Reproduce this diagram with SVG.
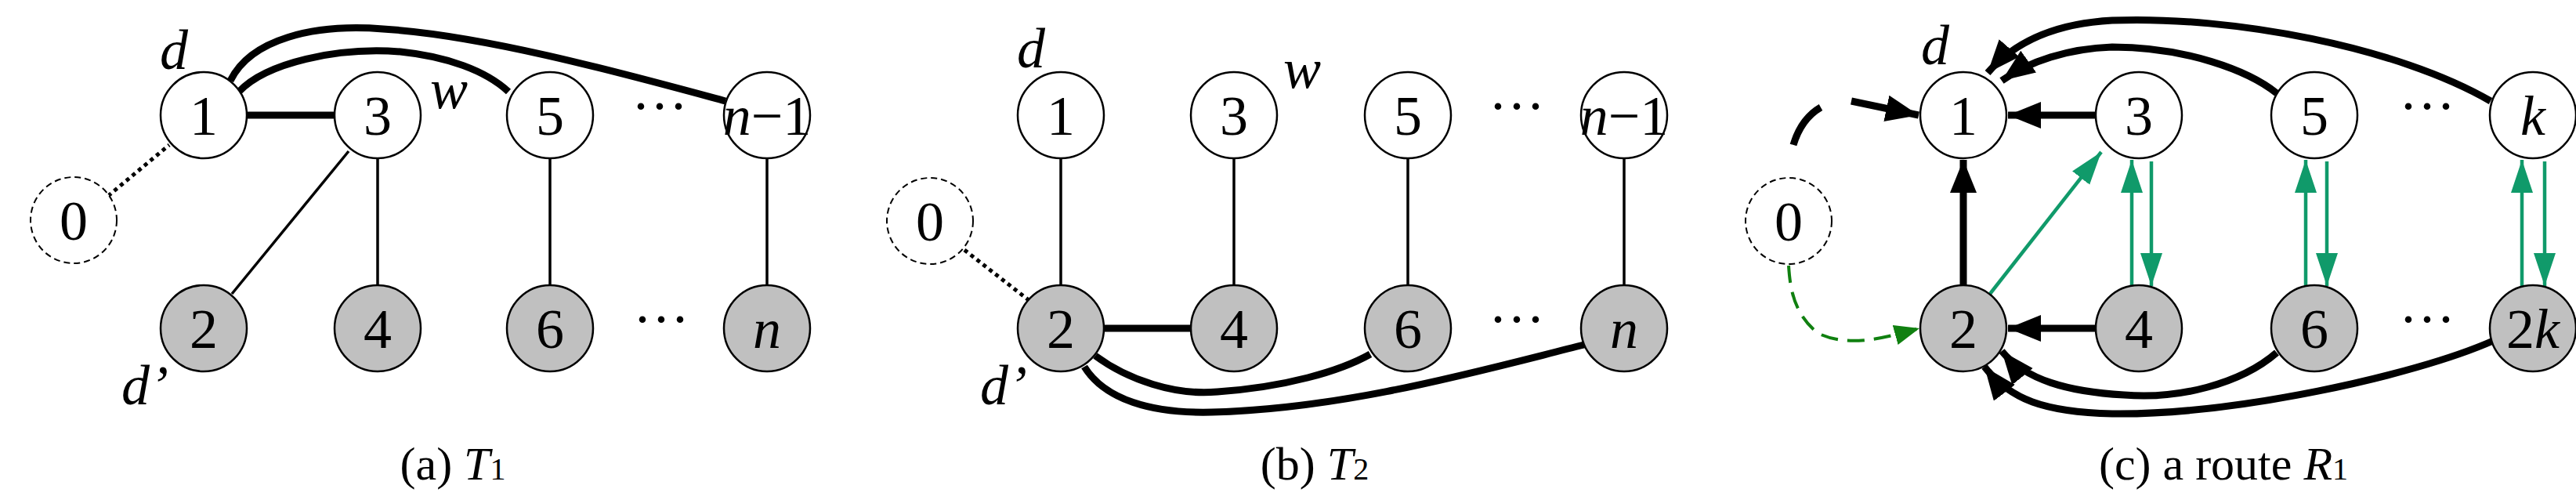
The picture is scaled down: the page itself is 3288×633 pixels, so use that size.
<svg xmlns="http://www.w3.org/2000/svg" width="3288" height="633" viewBox="0 0 3288 633">
<style>
text{font-family:"Liberation Serif","Times New Roman",serif;font-size:72px;fill:#000;text-anchor:middle}
.i{font-style:italic}
.w{fill:#fff;stroke:#000;stroke-width:2.5}
.g{fill:#c0c0c0;stroke:#000;stroke-width:2.5}
.z{fill:#fff;stroke:#000;stroke-width:2;stroke-dasharray:8 5}
.thick{fill:none;stroke:#000;stroke-width:9}
.thin{fill:none;stroke:#000;stroke-width:3.5}
.dot{fill:none;stroke:#000;stroke-width:5;stroke-dasharray:5 5}
.gr{fill:none;stroke:#109a6a;stroke-width:4.5}
.cap{font-size:60px}
</style>
<defs>
<marker id="ab" markerUnits="userSpaceOnUse" markerWidth="44" markerHeight="36" refX="42" refY="17" orient="auto"><path d="M0,0 L42,17 L0,34 z" fill="#000"/></marker>
<marker id="ag" markerUnits="userSpaceOnUse" markerWidth="44" markerHeight="30" refX="42" refY="14" orient="auto"><path d="M0,0 L42,14 L0,28 z" fill="#109a6a"/></marker>
<marker id="adg" markerUnits="userSpaceOnUse" markerWidth="34" markerHeight="28" refX="32" refY="13" orient="auto"><path d="M0,0 L32,13 L0,26 z" fill="#108010"/></marker>
</defs>
<g id="connectors">
<path class="thick" d="M305,117 C340,80 430,60 511,66 C570,72 620,90 649,117"/>
<path class="thick" d="M294,103 C320,50 400,30 489,37 C620,45 800,95 926,129"/>
<line class="thick" x1="315" y1="147" x2="427" y2="147"/>
<line class="thin" x1="445" y1="193" x2="296" y2="375"/>
<line class="thin" x1="482" y1="202" x2="482" y2="364"/>
<line class="thin" x1="702" y1="202" x2="702" y2="364"/>
<line class="thin" x1="979" y1="202" x2="979" y2="364"/>
<line class="dot" x1="138" y1="250" x2="216" y2="185"/>
<line class="thin" x1="1354" y1="202" x2="1354" y2="364"/>
<line class="thin" x1="1575" y1="202" x2="1575" y2="364"/>
<line class="thin" x1="1797" y1="202" x2="1797" y2="364"/>
<line class="thin" x1="2073" y1="202" x2="2073" y2="364"/>
<line class="thick" x1="1409" y1="419" x2="1520" y2="419"/>
<path class="thick" d="M1398,454 C1440,485 1500,505 1554,500 C1640,494 1710,474 1749,452"/>
<path class="thick" d="M1384,468 C1410,510 1470,528 1547,526 C1720,522 1900,470 2022,440"/>
<line class="dot" x1="1231" y1="319" x2="1313" y2="383"/>
<line class="thick" x1="2675" y1="147" x2="2563" y2="147" marker-end="url(#ab)"/>
<line class="thick" x1="2675" y1="419" x2="2563" y2="419" marker-end="url(#ab)"/>
<line class="thick" x1="2506" y1="364" x2="2506" y2="204" marker-end="url(#ab)"/>
<path class="thick" d="M2906,119 C2870,90 2790,60 2696,60 C2640,62 2590,78 2555,103" marker-end="url(#ab)"/>
<path class="thick" d="M3179,129 C3060,60 2850,20 2696,26 C2620,30 2570,55 2537,93" marker-end="url(#ab)"/>
<path class="thick" d="M2906,450 C2860,490 2780,510 2711,504 C2640,500 2585,485 2555,448" marker-end="url(#ab)"/>
<path class="thick" d="M3182,435 C3080,480 2850,530 2696,528 C2610,526 2565,510 2533,468" marker-end="url(#ab)"/>
<path class="thick" d="M2289,185 C2295,165 2305,148 2324,137"/>
<line class="thick" x1="2363" y1="129" x2="2449" y2="147" marker-end="url(#ab)"/>
<path fill="none" stroke="#108010" stroke-width="4" stroke-dasharray="22 12" d="M2283,339 C2285,370 2290,400 2320,425 C2360,445 2410,430 2450,419" marker-end="url(#adg)"/>
<line class="gr" x1="2540" y1="375" x2="2682" y2="194" marker-end="url(#ag)"/>
<line class="gr" x1="2721" y1="365" x2="2721" y2="204" marker-end="url(#ag)"/>
<line class="gr" x1="2746" y1="206" x2="2746" y2="365" marker-end="url(#ag)"/>
<line class="gr" x1="2943" y1="365" x2="2943" y2="204" marker-end="url(#ag)"/>
<line class="gr" x1="2970" y1="206" x2="2970" y2="365" marker-end="url(#ag)"/>
<line class="gr" x1="3219" y1="365" x2="3219" y2="204" marker-end="url(#ag)"/>
<line class="gr" x1="3248" y1="206" x2="3248" y2="365" marker-end="url(#ag)"/>
</g>
<g id="a1"><circle class="w" cx="260" cy="147" r="55"/><text x="260" y="172">1</text></g>
<g id="a3"><circle class="w" cx="482" cy="147" r="55"/><text x="482" y="172">3</text></g>
<g id="a5"><circle class="w" cx="702" cy="147" r="55"/><text x="702" y="172">5</text></g>
<g id="an1"><circle class="w" cx="979" cy="147" r="55"/><text x="979" y="172"><tspan class="i">n</tspan>−1</text></g>
<g id="a0"><circle class="z" cx="94" cy="281" r="55"/><text x="94" y="306">0</text></g>
<g id="a2"><circle class="g" cx="260" cy="419" r="55"/><text x="260" y="444">2</text></g>
<g id="a4"><circle class="g" cx="482" cy="419" r="55"/><text x="482" y="444">4</text></g>
<g id="a6"><circle class="g" cx="702" cy="419" r="55"/><text x="702" y="444">6</text></g>
<g id="an"><circle class="g" cx="979" cy="419" r="55"/><text x="979" y="444" class="i">n</text></g>
<text x="842" y="160">···</text><text x="844" y="432">···</text>
<text class="i" x="222" y="88">d</text><text class="i" x="573" y="138">w</text><text class="i" x="185" y="516">d’</text>
<text class="cap" x="578" y="612">(a) <tspan class="i">T</tspan><tspan font-size="40">1</tspan></text>
<g id="b1"><circle class="w" cx="1354" cy="147" r="55"/><text x="1354" y="172">1</text></g>
<g id="b3"><circle class="w" cx="1575" cy="147" r="55"/><text x="1575" y="172">3</text></g>
<g id="b5"><circle class="w" cx="1797" cy="147" r="55"/><text x="1797" y="172">5</text></g>
<g id="bn1"><circle class="w" cx="2073" cy="147" r="55"/><text x="2073" y="172"><tspan class="i">n</tspan>−1</text></g>
<g id="b0"><circle class="z" cx="1187" cy="282" r="55"/><text x="1187" y="307">0</text></g>
<g id="b2"><circle class="g" cx="1354" cy="419" r="55"/><text x="1354" y="444">2</text></g>
<g id="b4"><circle class="g" cx="1575" cy="419" r="55"/><text x="1575" y="444">4</text></g>
<g id="b6"><circle class="g" cx="1797" cy="419" r="55"/><text x="1797" y="444">6</text></g>
<g id="bn"><circle class="g" cx="2073" cy="419" r="55"/><text x="2073" y="444" class="i">n</text></g>
<text x="1936" y="160">···</text><text x="1936" y="432">···</text>
<text class="i" x="1316" y="86">d</text><text class="i" x="1662" y="112">w</text><text class="i" x="1281" y="516">d’</text>
<text class="cap" x="1678" y="612">(b) <tspan class="i">T</tspan><tspan font-size="40">2</tspan></text>
<g id="c1"><circle class="w" cx="2506" cy="147" r="55"/><text x="2506" y="172">1</text></g>
<g id="c3"><circle class="w" cx="2730" cy="147" r="55"/><text x="2730" y="172">3</text></g>
<g id="c5"><circle class="w" cx="2954" cy="147" r="55"/><text x="2954" y="172">5</text></g>
<g id="ck"><circle class="w" cx="3233" cy="147" r="55"/><text x="3233" y="172" class="i">k</text></g>
<g id="c0"><circle class="z" cx="2283" cy="282" r="55"/><text x="2283" y="307">0</text></g>
<g id="c2"><circle class="g" cx="2506" cy="419" r="55"/><text x="2506" y="444">2</text></g>
<g id="c4"><circle class="g" cx="2730" cy="419" r="55"/><text x="2730" y="444">4</text></g>
<g id="c6"><circle class="g" cx="2954" cy="419" r="55"/><text x="2954" y="444">6</text></g>
<g id="c2k"><circle class="g" cx="3233" cy="419" r="55"/><text x="3233" y="444">2<tspan class="i">k</tspan></text></g>
<text x="3098" y="160">···</text><text x="3098" y="432">···</text>
<text class="i" x="2470" y="82">d</text>
<text class="cap" x="2838" y="612">(c) a route <tspan class="i">R</tspan><tspan font-size="40">1</tspan></text>
</svg>
